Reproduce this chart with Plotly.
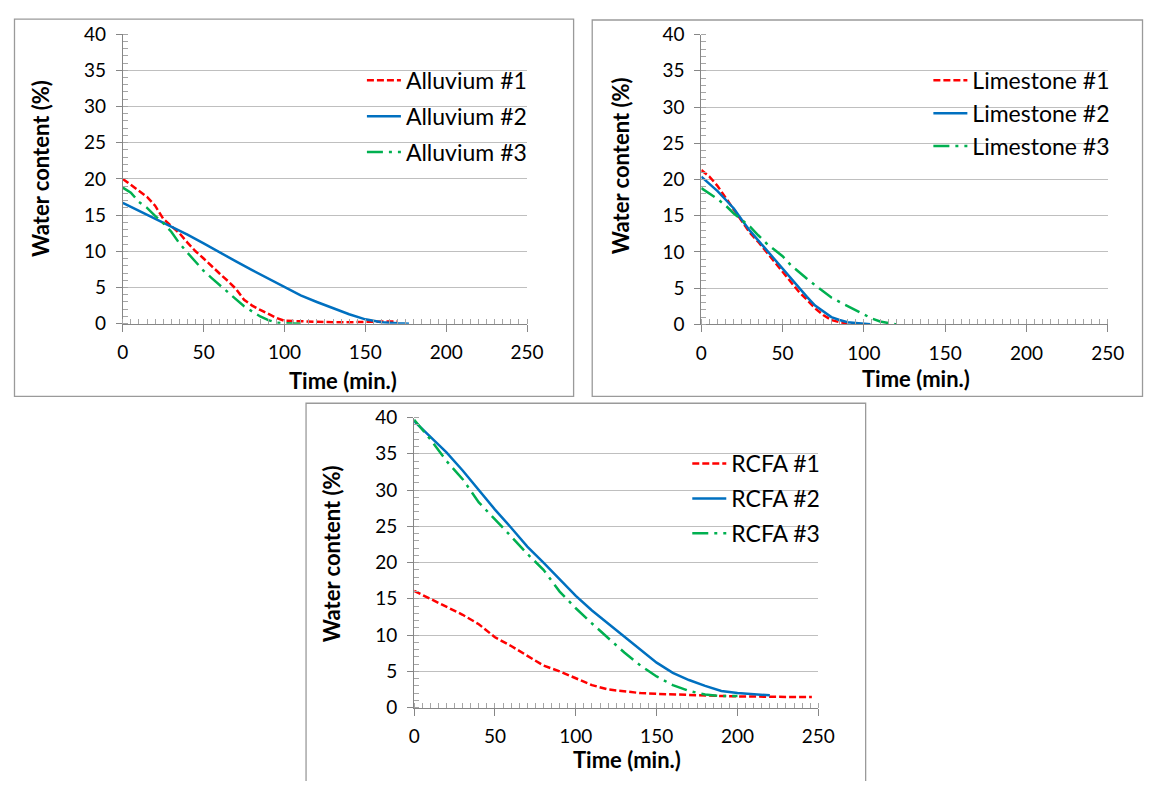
import plotly.graph_objects as go

# ---------------- data ----------------
alluvium1_t = [0, 5, 10, 15, 20, 25, 30, 35, 40, 45, 50, 55, 60, 65, 70, 75, 80, 85, 90, 95, 100, 110, 120, 130, 140, 150, 160, 170]
alluvium1_w = [20.0, 19.2, 18.3, 17.5, 16.3, 14.5, 13.5, 12.5, 11.2, 10.0, 9.0, 7.9, 6.9, 5.9, 4.8, 3.3, 2.5, 1.9, 1.3, 0.8, 0.4, 0.3, 0.3, 0.2, 0.2, 0.3, 0.3, 0.3]
alluvium2_t = [0, 10, 20, 30, 40, 50, 60, 70, 80, 90, 100, 110, 120, 130, 140, 150, 160, 170, 177]
alluvium2_w = [16.7, 15.6, 14.6, 13.5, 12.3, 11.1, 9.8, 8.6, 7.4, 6.2, 5.0, 3.9, 3.0, 2.1, 1.3, 0.6, 0.2, 0.05, 0.0]
alluvium3_t = [0, 5, 10, 15, 20, 25, 30, 35, 40, 45, 50, 55, 60, 65, 70, 75, 80, 85, 90, 95, 100, 105, 110]
alluvium3_w = [18.8, 18.1, 16.8, 16.0, 14.9, 13.9, 12.7, 11.1, 9.8, 8.5, 7.3, 6.3, 5.3, 4.3, 3.3, 2.4, 1.7, 1.0, 0.5, 0.15, 0.05, 0.0, 0.0]

limestone1_t = [0, 5, 10, 15, 20, 25, 30, 35, 40, 45, 50, 55, 60, 65, 70, 75, 80, 85, 90, 95, 100]
limestone1_w = [21.3, 20.4, 19.1, 17.5, 15.9, 14.2, 12.6, 11.4, 10.0, 8.7, 7.3, 5.9, 4.5, 3.4, 2.2, 1.3, 0.6, 0.3, 0.1, 0.0, 0.0]
limestone2_t = [0, 5, 10, 15, 20, 25, 30, 35, 40, 45, 50, 55, 60, 65, 70, 75, 80, 85, 90, 95, 100, 104]
limestone2_w = [20.4, 19.4, 18.4, 17.2, 16.0, 14.4, 12.9, 11.6, 10.3, 9.0, 7.7, 6.3, 5.0, 3.8, 2.6, 1.8, 1.0, 0.6, 0.3, 0.2, 0.1, 0.0]
limestone3_t = [0, 5, 10, 15, 20, 25, 30, 35, 40, 45, 50, 55, 60, 65, 70, 75, 80, 85, 90, 95, 100, 105, 110, 115, 120]
limestone3_w = [18.8, 18.1, 17.3, 16.4, 15.3, 14.4, 13.5, 12.3, 11.2, 10.3, 9.4, 8.2, 7.2, 6.3, 5.4, 4.5, 3.7, 3.1, 2.5, 1.9, 1.3, 0.8, 0.4, 0.15, 0.0]

rcfa1_t = [0, 10, 20, 30, 40, 50, 60, 70, 80, 90, 100, 110, 120, 130, 140, 150, 160, 170, 180, 190, 200, 210, 220, 230, 240, 246]
rcfa1_w = [16.1, 15.0, 14.0, 12.8, 11.5, 9.7, 8.5, 7.2, 5.8, 5.0, 4.0, 3.1, 2.5, 2.2, 2.0, 1.9, 1.8, 1.7, 1.65, 1.6, 1.55, 1.5, 1.5, 1.47, 1.45, 1.45]
rcfa2_t = [0, 10, 20, 30, 40, 50, 60, 70, 80, 90, 100, 110, 120, 130, 140, 150, 160, 170, 180, 190, 200, 210, 220]
rcfa2_w = [39.5, 37.4, 35.2, 32.7, 30.0, 27.3, 24.8, 22.2, 20.0, 17.7, 15.4, 13.4, 11.6, 9.7, 7.9, 6.2, 4.8, 3.8, 3.0, 2.3, 2.0, 1.8, 1.7]
rcfa3_t = [0, 10, 20, 30, 40, 50, 60, 70, 80, 90, 100, 110, 120, 130, 140, 150, 160, 170, 180, 190, 200]
rcfa3_w = [39.7, 37.0, 34.0, 31.5, 28.3, 26.0, 23.6, 21.2, 19.0, 16.0, 13.7, 11.6, 9.6, 7.6, 5.8, 4.3, 3.1, 2.3, 1.8, 1.6, 1.6]

x_title = "Time (min.)"
y_title = "Water content (%)"

# ---------------- layout helpers ----------------
OFF = 8                 # default page margin of the html body
FW, FH = 1168 - 2 * OFF, 789 - 2 * OFF
FONT = "Lato"
RED, BLUE, GREEN = "#FF0000", "#0070C0", "#00B050"
DASH_RED = "7px,3px"
DASH_GREEN = "16px,6px,3px,6px"

def px_x(v):
    return (v - OFF) / FW

def px_y(v):
    return 1 - (v - OFF) / FH

panels = [
    # (x0px, x1px, ytop_px, ybot_px) in target-image pixels
    (119, 531.5, 22.5, 321),
    (709.3, 1124, 23, 321.7),
    (416.3, 828.7, 417.7, 716.7),
]

fig = go.Figure()

series = [
    (1, "legend", [("Alluvium #1", alluvium1_t, alluvium1_w, RED, DASH_RED),
                   ("Alluvium #2", alluvium2_t, alluvium2_w, BLUE, "solid"),
                   ("Alluvium #3", alluvium3_t, alluvium3_w, GREEN, DASH_GREEN)]),
    (2, "legend2", [("Limestone #1", limestone1_t, limestone1_w, RED, DASH_RED),
                    ("Limestone #2", limestone2_t, limestone2_w, BLUE, "solid"),
                    ("Limestone #3", limestone3_t, limestone3_w, GREEN, DASH_GREEN)]),
    (3, "legend3", [("RCFA #1", rcfa1_t, rcfa1_w, RED, DASH_RED),
                    ("RCFA #2", rcfa2_t, rcfa2_w, BLUE, "solid"),
                    ("RCFA #3", rcfa3_t, rcfa3_w, GREEN, DASH_GREEN)]),
]

for idx, leg, items in series:
    sfx = "" if idx == 1 else str(idx)
    for name, t, w, col, dash in items:
        fig.add_trace(go.Scatter(
            x=t, y=w, name=name, mode="lines",
            line=dict(color=col, width=2.5, dash=dash),
            xaxis="x" + sfx, yaxis="y" + sfx, legend=leg, legendgroup=name,
        ))

layout = dict(
    width=FW, height=FH, margin=dict(l=0, r=0, t=0, b=0),
    paper_bgcolor="white", plot_bgcolor="white",
    font=dict(family=FONT, size=19, color="black"),
    showlegend=True,
)

for i, (x0, x1, yt, yb) in enumerate(panels, start=1):
    sfx = "" if i == 1 else str(i)
    layout["xaxis" + sfx] = dict(
        domain=[px_x(x0), px_x(x1)], anchor="y" + sfx, range=[0, 250],
        tickvals=[0, 50, 100, 150, 200, 250], showgrid=False, zeroline=False,
        showline=True, linecolor="#868686", linewidth=1,
        ticks="outside", ticklen=7, tickcolor="#868686", ticklabelstandoff=5,
        minor=dict(dtick=5, ticks="inside", ticklen=5, tickcolor="#A6A6A6", showgrid=False),
        tickfont=dict(family=FONT, size=19, color="black"),
        fixedrange=True,
    )
    layout["yaxis" + sfx] = dict(
        domain=[px_y(yb), px_y(yt)], anchor="x" + sfx, range=[0, 40],
        tickvals=[0, 5, 10, 15, 20, 25, 30, 35, 40], showgrid=True,
        gridcolor="#BFBFBF", gridwidth=1, zeroline=False,
        showline=True, linecolor="#868686", linewidth=1,
        ticks="outside", ticklen=6, tickcolor="#868686", ticklabelstandoff=6,
        minor=dict(dtick=1, ticks="inside", ticklen=5, tickcolor="#A6A6A6", showgrid=False),
        tickfont=dict(family=FONT, size=19, color="black"),
        fixedrange=True,
    )

legend_common = dict(
    bgcolor="rgba(0,0,0,0)", borderwidth=0, font=dict(family=FONT, size=23, color="black"),
    xanchor="left", yanchor="top", itemwidth=34,
)
layout["legend"] = dict(legend_common, x=px_x(363), y=px_y(48), tracegroupgap=3)
layout["legend2"] = dict(legend_common, x=px_x(941), y=px_y(48), tracegroupgap=0)
layout["legend3"] = dict(legend_common, x=px_x(695), y=px_y(443), tracegroupgap=2)

fig.update_layout(**layout)

# panel frames (target-image pixels)
frames = [(8.5, 579, 7, 396), (598, 1159.5, 8, 396), (306, 877, 403, 800)]
for x0, x1, y0, y1 in frames:
    fig.add_shape(type="rect", xref="paper", yref="paper",
                  x0=px_x(x0), x1=px_x(x1), y0=px_y(y1), y1=px_y(y0),
                  line=dict(color="#9A9A9A", width=1.3), layer="below")

# axis titles
title_font = dict(family=FONT, size=22, color="black")
xt_pos = [(344, 380), (928, 378), (633, 770)]
yt_pos = [(35, 161), (627, 158), (332, 558)]
for (xx, yy) in xt_pos:
    fig.add_annotation(text="<b>" + x_title + "</b>", xref="paper", yref="paper",
                       x=px_x(xx), y=px_y(yy), showarrow=False, font=title_font,
                       xanchor="center", yanchor="middle")
for (xx, yy) in yt_pos:
    fig.add_annotation(text="<b>" + y_title + "</b>", xref="paper", yref="paper",
                       x=px_x(xx), y=px_y(yy), showarrow=False, font=title_font,
                       textangle=-90, xanchor="center", yanchor="middle")

fig.write_html("out.html", config={"displayModeBar": False})
